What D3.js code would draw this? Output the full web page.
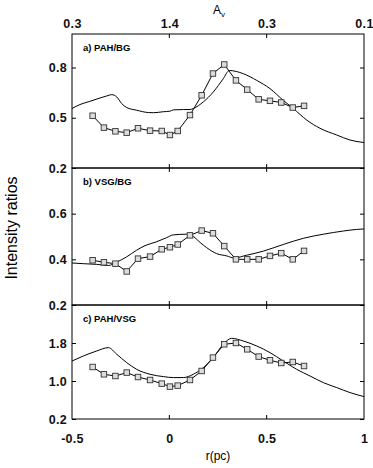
<!DOCTYPE html>
<html>
<head>
<meta charset="utf-8">
<script src="https://cdn.jsdelivr.net/npm/d3@7"></script>
<style>
  body { margin: 0; background: #fff; }
  svg { font-family: "Liberation Sans", Arial, sans-serif; }
  .axis path, .axis line { stroke: #000; }
  .tl { font-size: 12.5px; font-weight: 600; letter-spacing: 0.3px; fill: #111; }
  .line { fill: none; stroke: #000; stroke-width: 1; }
</style>
</head>
<body>
<svg width="373" height="468"></svg>
<script>
// sample radii of the observed points (pc)
var obsR = [-0.394, -0.336, -0.277, -0.219, -0.161, -0.099, -0.039, 0.003, 0.043, 0.106,
            0.166, 0.224, 0.282, 0.342, 0.400, 0.459, 0.517, 0.575, 0.634, 0.692];

// observed ratios (squares)
var obsPahBg  = [0.512, 0.441, 0.419, 0.411, 0.437, 0.423, 0.421, 0.397, 0.421, 0.516,
                 0.634, 0.764, 0.818, 0.723, 0.668, 0.610, 0.601, 0.591, 0.561, 0.571];
var obsVsgBg  = [0.396, 0.387, 0.381, 0.347, 0.403, 0.412, 0.444, 0.453, 0.465, 0.505,
                 0.526, 0.514, 0.458, 0.400, 0.400, 0.400, 0.415, 0.427, 0.400, 0.437];
var obsPahVsg = [1.295, 1.141, 1.105, 1.177, 1.084, 1.021, 0.945, 0.882, 0.903, 1.021,
                 1.211, 1.493, 1.773, 1.800, 1.667, 1.514, 1.436, 1.379, 1.400, 1.316];

// model curves
var modR_a = [-0.5, -0.459, -0.408, -0.356, -0.322, -0.296, -0.270, -0.245, -0.219, -0.168,
              -0.108, -0.082, -0.031, 0.003, 0.020, 0.072, 0.106, 0.123, 0.175, 0.226,
              0.277, 0.308, 0.380, 0.449, 0.517, 0.585, 0.637, 0.706, 0.774, 0.860, 0.928, 1.0];
var modPahBg = [0.555, 0.579, 0.598, 0.618, 0.630, 0.638, 0.624, 0.585, 0.561, 0.545,
                0.531, 0.530, 0.536, 0.539, 0.547, 0.549, 0.549, 0.555, 0.595, 0.654,
                0.733, 0.782, 0.763, 0.723, 0.674, 0.604, 0.555, 0.486, 0.437, 0.397, 0.367, 0.352];

var modR_b = [-0.5, -0.442, -0.373, -0.313, -0.270, -0.219, -0.168, -0.125, -0.065, -0.014,
              0.020, 0.089, 0.123, 0.158, 0.192, 0.243, 0.295, 0.332, 0.397, 0.483,
              0.585, 0.688, 0.791, 0.894, 0.962, 1.0];
var modVsgBg = [0.384, 0.381, 0.378, 0.373, 0.388, 0.411, 0.440, 0.460, 0.477, 0.495,
                0.507, 0.510, 0.500, 0.474, 0.451, 0.425, 0.415, 0.406, 0.418, 0.436,
                0.465, 0.492, 0.510, 0.524, 0.531, 0.533];

var modR_c = [-0.5, -0.442, -0.373, -0.313, -0.270, -0.219, -0.168, -0.099, -0.031, 0.020,
              0.072, 0.123, 0.175, 0.226, 0.277, 0.320, 0.380, 0.449, 0.517, 0.585,
              0.654, 0.723, 0.791, 0.860, 0.928, 1.0];
var modPahVsg = [1.421, 1.526, 1.632, 1.703, 1.562, 1.387, 1.246, 1.141, 1.093, 1.072,
                 1.072, 1.141, 1.282, 1.493, 1.773, 1.899, 1.842, 1.737, 1.598, 1.421,
                 1.246, 1.105, 0.966, 0.861, 0.756, 0.672];

var xTicks = [-0.5, 0, 0.5, 1];
var xLabels = ["-0.5", "0", "0.5", "1"];
var avLabels = ["0.3", "1.4", "0.3", "0.1"];

var panels = [
  {name: "a) PAH/BG",  obs: obsPahBg,  modR: modR_a, mod: modPahBg,  dom: [0.2, 1.0], ticks: [0.2, 0.5, 0.8], top: 34,  bottom: 168},
  {name: "b) VSG/BG",  obs: obsVsgBg,  modR: modR_b, mod: modVsgBg,  dom: [0.2, 0.8], ticks: [0.2, 0.4, 0.6], top: 168, bottom: 305},
  {name: "c) PAH/VSG", obs: obsPahVsg, modR: modR_c, mod: modPahVsg, dom: [0.2, 2.6], ticks: [0.2, 1.0, 1.8], top: 305, bottom: 419}
];

var svg = d3.select("svg"),
  left = 72, right = 364;

var x = d3.scaleLinear().domain([-0.5, 1]).range([left, right]);

panels.forEach(function(p, i) {
  var y = d3.scaleLinear().domain(p.dom).range([p.bottom, p.top]);
  var g = svg.append("g");

  // frame
  g.append("rect")
    .attr("x", left).attr("y", p.top)
    .attr("width", right - left).attr("height", p.bottom - p.top)
    .attr("fill", "none").attr("stroke", "#000").attr("stroke-width", 1);

  // left axis: inward ticks, labels outside
  var ya = g.append("g")
    .attr("class", "axis")
    .attr("transform", "translate(" + left + ",0)")
    .call(d3.axisRight(y).tickValues(p.ticks).tickSize(4).tickFormat(d3.format(".1f")));
  ya.select(".domain").remove();
  ya.selectAll("text")
    .attr("class", "tl")
    .attr("x", -5).attr("text-anchor", "end")
    .attr("font-size", null).attr("font-family", null);
  // right axis ticks
  var yr = g.append("g")
    .attr("class", "axis")
    .attr("transform", "translate(" + right + ",0)")
    .call(d3.axisLeft(y).tickValues(p.ticks).tickSize(4).tickFormat(""));
  yr.select(".domain").remove();

  // inner x ticks on top and bottom of each panel
  [0, 0.5].forEach(function(t) {
    g.append("line").attr("x1", x(t)).attr("x2", x(t))
      .attr("y1", p.bottom).attr("y2", p.bottom - 4).attr("stroke", "#000");
    g.append("line").attr("x1", x(t)).attr("x2", x(t))
      .attr("y1", p.top).attr("y2", p.top + 4).attr("stroke", "#000");
  });

  // panel label
  g.append("text")
    .attr("x", 83).attr("y", p.top + 17)
    .style("font-size", "9.5px")
    .style("font-weight", 600)
    .text(p.name);

  var clipId = "clip" + i;
  svg.append("clipPath").attr("id", clipId)
    .append("rect").attr("x", left).attr("y", p.top)
    .attr("width", right - left).attr("height", p.bottom - p.top);

  var modelLine = d3.line()
    .x(function(d, k) { return x(p.modR[k]); })
    .y(function(d) { return y(d); })
    .curve(d3.curveMonotoneX);

  g.append("path")
    .datum(p.mod)
    .attr("class", "line")
    .attr("clip-path", "url(#" + clipId + ")")
    .attr("d", modelLine);

  var obsLine = d3.line()
    .x(function(d, k) { return x(obsR[k]); })
    .y(function(d) { return y(d); });

  g.append("path")
    .datum(p.obs)
    .attr("class", "line")
    .attr("d", obsLine);

  g.selectAll("rect.pt")
    .data(p.obs)
    .enter().append("rect")
    .attr("class", "pt")
    .attr("x", function(d, k) { return x(obsR[k]) - 2.75; })
    .attr("y", function(d) { return y(d) - 2.75; })
    .attr("width", 5.5).attr("height", 5.5)
    .attr("fill", "#dcdcdc")
    .attr("stroke", "#333").attr("stroke-width", 0.9);
});

// bottom axis labels
var xb = svg.append("g")
  .attr("class", "axis")
  .attr("transform", "translate(0,419)")
  .call(d3.axisBottom(x).tickValues(xTicks).tickSize(0)
    .tickFormat(function(d, k) { return xLabels[k]; }));
xb.select(".domain").remove();
xb.selectAll("text").attr("class", "tl").attr("y", 15)
  .attr("font-size", null).attr("font-family", null);

// top axis (A_v)
var xt = svg.append("g")
  .attr("class", "axis")
  .attr("transform", "translate(0,34)")
  .call(d3.axisTop(x).tickValues(xTicks).tickSize(0)
    .tickFormat(function(d, k) { return avLabels[k]; }));
xt.select(".domain").remove();
xt.selectAll("text").attr("class", "tl").attr("y", -6)
  .attr("font-size", null).attr("font-family", null);

svg.append("text")
  .attr("x", 219).attr("y", 14)
  .attr("text-anchor", "middle")
  .style("font-size", "12px")
  .html('A<tspan dy="3" font-size="8">v</tspan>');

svg.append("text")
  .attr("x", 218).attr("y", 460)
  .attr("text-anchor", "middle")
  .style("font-size", "12px")
  .text("r(pc)");

svg.append("text")
  .attr("transform", "translate(17,228) rotate(-90)")
  .attr("text-anchor", "middle")
  .style("font-size", "16px")
  .text("Intensity ratios");
</script>
</body>
</html>
